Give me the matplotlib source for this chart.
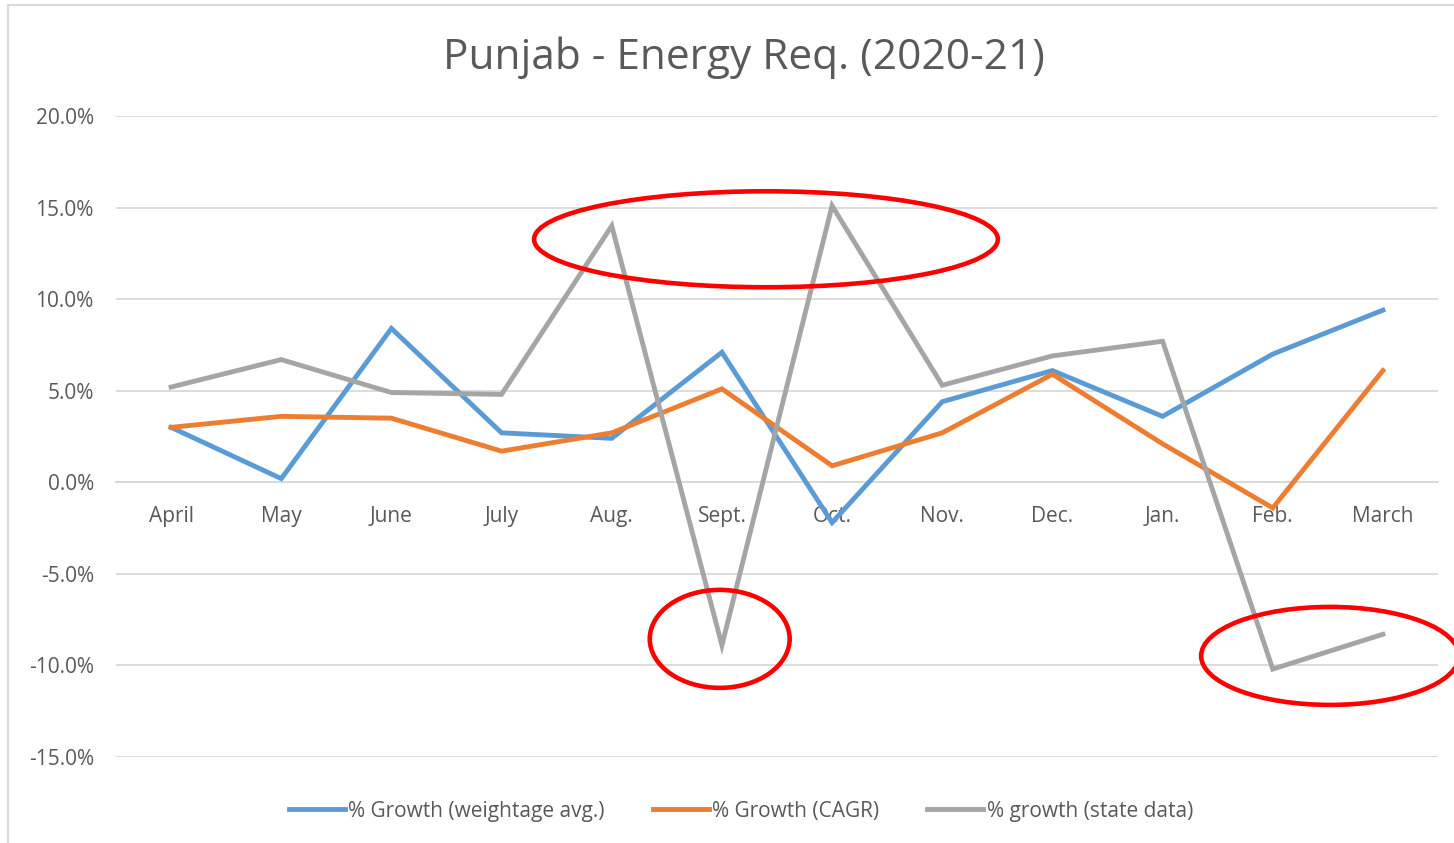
import matplotlib
matplotlib.use("Agg")
import matplotlib.pyplot as plt
from matplotlib.patches import Ellipse
from matplotlib.lines import Line2D
from matplotlib.ticker import FuncFormatter

plt.rcParams['font.family'] = ['Open Sans', 'DejaVu Sans']

months = ['April', 'May', 'June', 'July', 'Aug.', 'Sept.', 'Oct.',
          'Nov.', 'Dec.', 'Jan.', 'Feb.', 'March']

# values in percent
growth_weighted = [3.0, 0.2, 8.4, 2.7, 2.4, 7.1, -2.2, 4.4, 6.1, 3.6, 7.0, 9.4]
growth_cagr = [3.0, 3.6, 3.5, 1.7, 2.7, 5.1, 0.9, 2.7, 5.9, 2.1, -1.4, 6.1]
growth_state = [5.2, 6.7, 4.9, 4.8, 14.0, -8.9, 15.1, 5.3, 6.9, 7.7, -10.2, -8.3]

series_labels = ['% Growth (weightage avg.)', '% Growth (CAGR)', '% growth (state data)']
series_colors = ['#5B9BD5', '#ED7D31', '#A5A5A5']

# red highlight ellipses drawn on top (x centre, y centre, width, height in data units)
highlights = [(5.40, 13.27, 4.21, 5.24),
              (4.98, -8.55, 1.27, 5.35),
              (10.52, -9.48, 2.34, 5.35)]

text_color = '#595959'
grid_color = '#D9D9D9'

fig = plt.figure(figsize=(14.54, 8.43), dpi=100)
ax = fig.add_axes([116 / 1454, 1 - 757 / 843, (1438 - 116) / 1454, (757 - 116) / 843])

x = list(range(len(months)))
for vals, lab, col in zip([growth_weighted, growth_cagr, growth_state], series_labels, series_colors):
    ax.plot(x, vals, color=col, lw=3.5, label=lab, solid_joinstyle='miter', zorder=3)

ax.set_xlim(-0.5, len(months) - 0.5)
ax.set_ylim(-15, 20)
ax.set_yticks([-15, -10, -5, 0, 5, 10, 15, 20])
ax.yaxis.set_major_formatter(FuncFormatter(lambda v, p: f'{v:.1f}%'))
ax.grid(axis='y', color=grid_color, lw=1.3, zorder=0)
ax.set_axisbelow(True)
for s in ['top', 'right', 'left']:
    ax.spines[s].set_visible(False)
ax.spines['bottom'].set_position(('data', 0))
ax.spines['bottom'].set_color(grid_color)
ax.spines['bottom'].set_linewidth(1.3)
ax.set_xticks(x)
ax.set_xticklabels(months)
ax.tick_params(axis='x', length=0, pad=17, labelsize=15, labelcolor=text_color)
ax.tick_params(axis='y', length=0, pad=16, labelsize=15, labelcolor=text_color)

for cx, cy, w, h in highlights:
    ax.add_patch(Ellipse((cx, cy), w, h, fill=False, edgecolor='#FF0000', lw=3.3,
                         zorder=5, clip_on=False))

fig.text(744 / 1454, 1 - 58 / 843, 'Punjab - Energy Req. (2020-21)', ha='center', va='center',
         fontsize=30.5, color=text_color)

handles = [Line2D([0], [0], color=c, lw=3.5) for c in series_colors]
leg = fig.legend(handles, series_labels, loc='center', bbox_to_anchor=(741 / 1454, 1 - 811 / 843),
                 ncol=3, frameon=False, fontsize=15, handlelength=2.7, handletextpad=0.15,
                 columnspacing=2.3)
for t in leg.get_texts():
    t.set_color(text_color)

# chart area border
fig.add_artist(Line2D([8 / 1454, 8 / 1454], [0, 1 - 5 / 843], color=grid_color, lw=1.5))
fig.add_artist(Line2D([8 / 1454, 1], [1 - 5 / 843, 1 - 5 / 843], color=grid_color, lw=1.5))

fig.savefig('out.png', dpi=100)
